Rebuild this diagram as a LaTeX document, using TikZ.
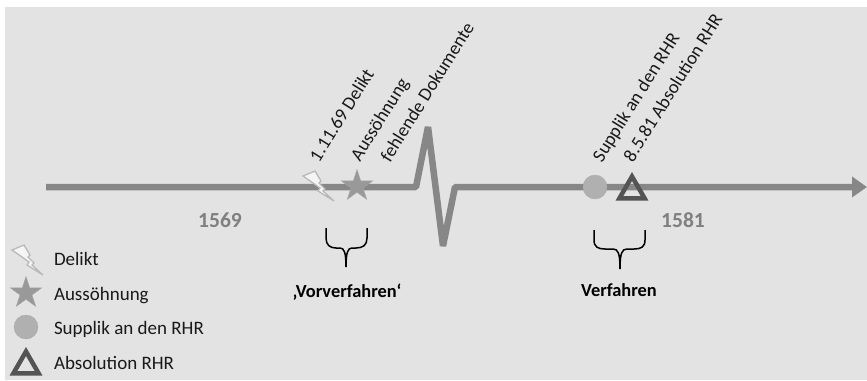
\documentclass[tikz,border=0pt]{standalone}
\usepackage{fontspec}
\setmainfont{Carlito}
\usetikzlibrary{shapes.geometric}
\usetikzlibrary{arrows.meta}
\definecolor{backdrop}{gray}{0.89}
\definecolor{axisgray}{gray}{0.53}
\definecolor{yeargray}{gray}{0.5}
\definecolor{stargray}{gray}{0.6}
\definecolor{dotgray}{gray}{0.69}
\definecolor{trigray}{gray}{0.33}
\definecolor{inkgray}{gray}{0.1}
\tikzset{>={Triangle[length=15pt,width=20pt]}}
\tikzset{
  bolt/.pic={
    \draw [draw=gray!55, fill=gray!8, line width=1.3pt, line join=miter]
      (-15,-10) -- (-3,-15) -- (3,-5) -- (1,-3) -- (7,3) -- (5,5) -- (16,15)
      -- (0,5) -- (2,2) -- (-5,-3) -- cycle;
  }
}
\begin{document}
\begin{tikzpicture}
    [
      x=1pt, y=-1pt,
      every node/.style={inner sep=0pt, outer sep=0pt},
      axis/.style={->, draw=axisgray, line width=6.5pt, line join=bevel},
      slanted/.style={anchor=base west, rotate=58, font=\fontsize{18.7}{18.7}\selectfont, text=inkgray},
      legend/.style={anchor=base west, font=\fontsize{19}{19}\selectfont, text=inkgray},
      year/.style={anchor=base, font=\fontsize{21.5}{21.5}\selectfont\bfseries, text=yeargray},
      phase/.style={anchor=base, font=\fontsize{18.4}{18.4}\selectfont\bfseries, text=black},
      starmark/.style={star, star points=5, star point ratio=2.618, minimum size=33pt, fill=stargray, draw=gray!70, thin},
      dotmark/.style={circle, minimum size=24pt, fill=dotgray, draw=gray!65, thin},
      trimark/.style={regular polygon, regular polygon sides=3, minimum size=29pt, draw=trigray, line width=4.5pt},
      brace/.style={draw=black, line width=1.5pt}
    ]
    \useasboundingbox (0,0) rectangle (867,380);
    \fill [white] (0,0) rectangle (867,380);
    \fill [backdrop] (5,7) rectangle (867,380);

    \coordinate (axis-start) at (46,187);
    \coordinate (kink-a) at (416,187);
    \coordinate (kink-b) at (428,127);
    \coordinate (kink-c) at (443,246);
    \coordinate (kink-d) at (455,187);
    \coordinate (axis-end) at (867,187);
    \draw [axis] (axis-start) -- (kink-a) -- (kink-b) -- (kink-c) -- (kink-d) -- (axis-end);

    \pic (bolt-axis) at (318,186) {bolt};
    \node (star-axis) [starmark] at (357,186) {};
    \node (dot-axis) [dotmark] at (595,187) {};
    \node (tri-axis) [trimark] at (632,191) {};

    \node (label-delikt) [slanted] at (319,163) {1.11.69 Delikt};
    \node (label-suehne) [slanted] at (360,162) {Aussöhnung};
    \node (label-fehlt) [slanted] at (390,163) {fehlende Dokumente};
    \node (label-supplik) [slanted] at (602,163) {Supplik an den RHR};
    \node (label-absol) [slanted] at (633,163) {8.5.81 Absolution RHR};

    \node (year-start) [year] at (220,227) {1569};
    \node (year-end) [year] at (683,227) {1581};

    \draw [brace] (326,228) -- (326,238) .. controls (326,245) and (330,248) .. (336,248)
      -- (340,248) .. controls (344,248) and (346,252) .. (346,267);
    \draw [brace] (367,228) -- (367,238) .. controls (367,245) and (363,248) .. (356,248)
      -- (352,248) .. controls (348,248) and (346,252) .. (346,267);
    \draw [brace] (594,230) -- (594,240) .. controls (594,247) and (598,249) .. (605,249)
      -- (613,249) .. controls (618,249) and (620,253) .. (620,269);
    \draw [brace] (645,230) -- (645,240) .. controls (645,247) and (641,249) .. (634,249)
      -- (627,249) .. controls (622,249) and (620,253) .. (620,269);

    \node (phase-vor) [phase] at (347,297) {‚Vorverfahren‘};
    \node (phase-ver) [phase] at (619,296) {Verfahren};

    \pic (bolt-key) at (27,260) {bolt};
    \node (star-key) [starmark] at (26,293) {};
    \node (dot-key) [dotmark] at (26,327) {};
    \node (tri-key) [trimark] at (26,366) {};

    \node (key-delikt) [legend] at (54,265) {Delikt};
    \node (key-suehne) [legend] at (54,300) {Aussöhnung};
    \node (key-supplik) [legend] at (54,334) {Supplik an den RHR};
    \node (key-absol) [legend] at (54,369) {Absolution RHR};
  \end{tikzpicture}
\end{document}
